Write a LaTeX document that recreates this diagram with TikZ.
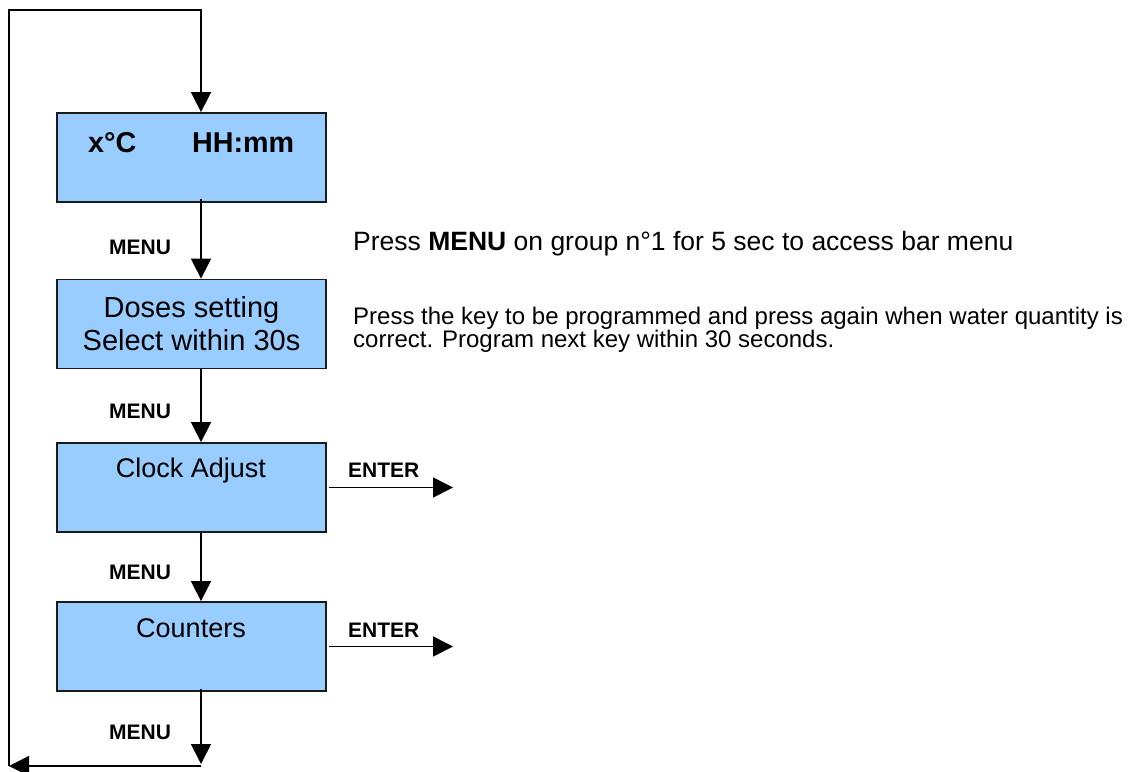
\documentclass[tikz,border=0pt]{standalone}
\usepackage{fontspec}
\setmainfont{Liberation Sans}
\usetikzlibrary{arrows.meta}
\definecolor{boxblue}{HTML}{99CCFF}
\definecolor{boxline}{HTML}{1A1A1A}
\tikzset{
  menubox/.style={draw=boxline, fill=boxblue, line width=1.8pt, rectangle,
    minimum width=269pt, minimum height=89pt, inner sep=0pt},
  arr/.style={line width=1.6pt, -{Triangle[length=20pt,width=20pt]}},
  plain/.style={line width=1.6pt},
  lbl/.style={inner sep=0pt, font=\fontsize{21}{24}\selectfont\bfseries},
  boxtxt/.style={inner sep=0pt, font=\fontsize{27}{31}\selectfont},
  side/.style={inner sep=0pt, anchor=base west},
}
\begin{document}
\begin{tikzpicture}[x=1pt,y=-1pt]
\useasboundingbox (0,0) rectangle (1131,771);
% boxes
\node[menubox] (b1) at (191.5,157.5) {};
\node[menubox] (b2) at (191.5,324) {};
\node[menubox] (b3) at (191.5,487.5) {};
\node[menubox] (b4) at (191.5,646.5) {};
% texts in boxes
\node[inner sep=0pt, anchor=base west, font=\fontsize{28.7}{33}\selectfont\bfseries] (t1a) at (88,152) {x°C};
\node[inner sep=0pt, anchor=base west, font=\fontsize{28.7}{33}\selectfont\bfseries] (t1b) at (192,152) {HH:mm};
\node[boxtxt, anchor=base, font=\fontsize{29}{33}\selectfont] (t2a) at (191.5,317) {Doses setting};
\node[boxtxt, anchor=base, font=\fontsize{29}{33}\selectfont] (t2b) at (191.5,350) {Select within 30s};
\node[boxtxt, anchor=base] (t3) at (191,477) {Clock Adjust};
\node[boxtxt, anchor=base] (t4) at (191,637) {Counters};
% coordinates
\coordinate (ax) at (201,0);
\coordinate (tl) at (9,10);
\coordinate (bl) at (9,766);
\coordinate (br) at (201,766);
\coordinate (bt) at (201,764);
\coordinate (e3) at (453,487.5);
\coordinate (e4) at (453,646.5);
% connectors
\draw[arr] (bl) -- (tl) -- (tl -| ax) -- (b1.north -| ax);
\draw[arr] ([yshift=4pt]b1.south -| ax) -- (b2.north -| ax);
\draw[arr] (b2.south -| ax) -- (b3.north -| ax);
\draw[arr] (b3.south -| ax) -- (b4.north -| ax);
\draw[arr] ([yshift=3pt]b4.south -| ax) -- (bt);
\draw[arr] (br) -- (bl);
\draw[arr] ([xshift=2pt]b3.east) -- (e3);
\draw[arr] ([xshift=2pt]b4.east) -- (e4);
% labels
\node[lbl, anchor=base west] (m1) at (109,254) {MENU};
\node[lbl, anchor=base west] (m2) at (109,418) {MENU};
\node[lbl, anchor=base west] (m3) at (109,579) {MENU};
\node[lbl, anchor=base west] (m4) at (109,739) {MENU};
\node[lbl, anchor=base west] (en3) at (348,477) {ENTER};
\node[lbl, anchor=base west] (en4) at (348,637) {ENTER};
% side notes
\node[side, font=\fontsize{26.5}{30}\selectfont] (s1) at (353,250) {Press \textbf{MENU} on group n°1 for 5 sec to access bar menu};
\node[side, font=\fontsize{24}{23}\selectfont] (s2a) at (353,324) {Press the key to be programmed and press again when water quantity is};
\node[side, font=\fontsize{24}{23}\selectfont] (s2b) at (353,347) {correct. Program next key within 30 seconds.};
\end{tikzpicture}
\end{document}
